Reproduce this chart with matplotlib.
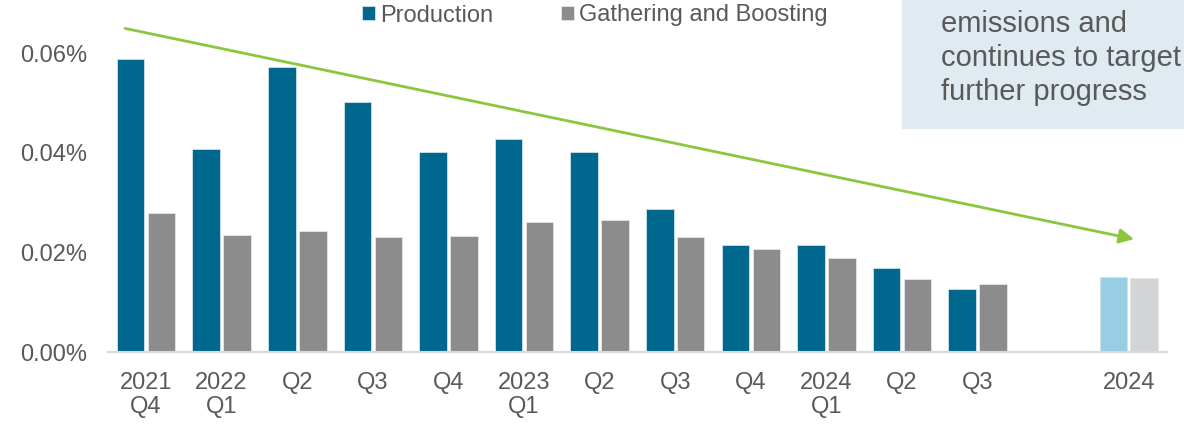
import numpy as np
import matplotlib.pyplot as plt
from matplotlib.patches import Rectangle

plt.rcParams['font.family'] = ['Liberation Sans', 'DejaVu Sans']

# datos (%)
periodos = ["2021\nQ4", "2022\nQ1", "Q2", "Q3", "Q4", "2023\nQ1", "Q2", "Q3",
            "Q4", "2024\nQ1", "Q2", "Q3", "2024"]
posiciones = [0, 1, 2, 3, 4, 5, 6, 7, 8, 9, 10, 11, 13]
produccion = [0.0588, 0.0407, 0.0573, 0.0503, 0.0401, 0.0428, 0.0402, 0.0288,
              0.0216, 0.0216, 0.0169, 0.0128, 0.0151]
recoleccion = [0.0280, 0.0235, 0.0243, 0.0231, 0.0234, 0.0261, 0.0266, 0.0231,
               0.0207, 0.0189, 0.0147, 0.0137, 0.0149]
yticks = [0.0, 0.02, 0.04, 0.06]
flecha_inicio = (-0.278, 0.0650)
flecha_fin = (13.07, 0.0227)
texto_caja = ["emissions and", "continues to target", "further progress"]

azul, gris = "#00688F", "#8C8C8C"
azul_claro, gris_claro = "#98CEE4", "#D3D4D6"
verde = "#8CC63F"
texto = "#595959"

fig = plt.figure(figsize=(11.84, 4.24), dpi=100)
ax = fig.add_axes([0.0914, 0.1691, 0.8939, 0.8227])

ancho = 0.365
hueco = 0.045
x = np.array(posiciones, dtype=float)
col_p = [azul] * 12 + [azul_claro]
col_g = [gris] * 12 + [gris_claro]
bp = ax.bar(x - (ancho + hueco) / 2, produccion, ancho, color=col_p,
            edgecolor="#CFE3EC", linewidth=0.6, label="Production")
bg = ax.bar(x + (ancho + hueco) / 2, recoleccion, ancho, color=col_g,
            edgecolor="#E6E6E6", linewidth=0.6, label="Gathering and Boosting")

ax.set_xlim(-0.5, 13.5)
ax.set_ylim(0, 0.07)
ax.set_yticks(yticks)
ax.set_yticklabels(["{:.2f}%".format(v) for v in yticks])
ax.set_xticks(posiciones)
ax.set_xticklabels(periodos, linespacing=1.1)
ax.tick_params(axis="y", length=0, pad=15, labelsize=17, labelcolor=texto)
ax.tick_params(axis="x", length=0, pad=14.5, labelsize=17, labelcolor=texto)
for s in ["top", "right", "left"]:
    ax.spines[s].set_visible(False)
ax.spines["bottom"].set_color("#D9D9D9")
ax.spines["bottom"].set_linewidth(1.5)

ax.annotate("", xy=flecha_fin, xytext=flecha_inicio, annotation_clip=False,
            arrowprops=dict(arrowstyle="-|>", color=verde, lw=2,
                            mutation_scale=22, shrinkA=0, shrinkB=0))

leg = fig.legend(handles=[bp, bg], loc="center", bbox_to_anchor=(595 / 1184, 1 - 15.5 / 424),
                 ncol=2, frameon=False, fontsize=17, handlelength=0.55,
                 handleheight=0.55, handletextpad=0.2, columnspacing=2.9)
for t in leg.get_texts():
    t.set_color(texto)

fig.patches.append(Rectangle((902 / 1184, 1 - 127.7 / 424), 1, 1,
                             transform=fig.transFigure, color="#DFEBF0", zorder=0))
for i, linea in enumerate(texto_caja):
    fig.text(941 / 1184, 1 - (31.7 + 34.3 * i) / 424, linea, fontsize=21,
             color=texto, va="baseline", ha="left")

fig.savefig("out.png", dpi=100)
